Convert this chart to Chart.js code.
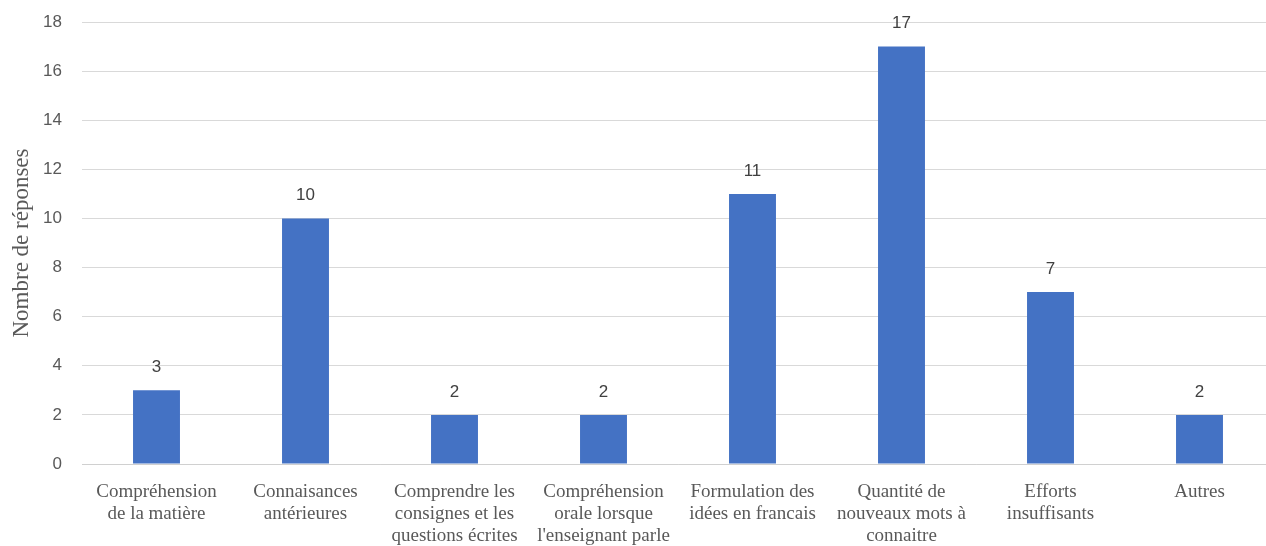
<!DOCTYPE html>
<html>
<head>
<meta charset="utf-8">
<script src="https://cdn.jsdelivr.net/npm/chart.js@4/dist/chart.umd.min.js"></script>
<style>
  html, body { margin: 0; padding: 0; background: #fff; overflow: hidden; }
  #wrap { position: relative; width: 1274px; height: 546px; }
</style>
</head>
<body>
<div id="wrap"><canvas id="chart"></canvas></div>
<script>
const categories = [
  ["Compréhension", "de la matière"],
  ["Connaisances", "antérieures"],
  ["Comprendre les", "consignes et les", "questions écrites"],
  ["Compréhension", "orale lorsque", "l'enseignant parle"],
  ["Formulation des", "idées en francais"],
  ["Quantité de", "nouveaux mots à", "connaitre"],
  ["Efforts", "insuffisants"],
  ["Autres"]
];
const responses = [3, 10, 2, 2, 11, 17, 7, 2];
const yTicks = [0, 2, 4, 6, 8, 10, 12, 14, 16, 18];

// draws the value above each bar
const valueLabels = {
  id: "valueLabels",
  afterDatasetsDraw(chart) {
    const ctx = chart.ctx;
    ctx.save();
    ctx.font = "17px 'Liberation Sans', sans-serif";
    ctx.fillStyle = "#404040";
    ctx.textAlign = "center";
    ctx.textBaseline = "middle";
    chart.getDatasetMeta(0).data.forEach((bar, i) => {
      ctx.fillText(String(responses[i]), bar.x, bar.y - 23);
    });
    ctx.restore();
  }
};

const ctx = document.getElementById("chart").getContext("2d");
const chart = new Chart(ctx, {
  type: "bar",
  data: {
    labels: categories,
    datasets: [{
      label: "Nombre de réponses",
      data: responses,
      backgroundColor: "#4472C4",
      categoryPercentage: 1,
      barPercentage: 0.315
    }]
  },
  options: {
    responsive: true,
    maintainAspectRatio: false,
    animation: false,
    layout: { padding: { top: 22, right: 0, bottom: 0, left: 0 } },
    plugins: {
      legend: { display: false },
      tooltip: { enabled: false }
    },
    scales: {
      x: {
        grid: { display: false },
        border: { display: true, color: "#d0d0d0", width: 1 },
        ticks: {
          color: "#595959",
          font: { family: "'Liberation Serif', serif", size: 19, lineHeight: 1.16 },
          padding: 9,
          maxRotation: 0,
          autoSkip: false
        },
        afterFit(scale) { scale.height = 82; }
      },
      y: {
        min: 0,
        max: 18,
        afterBuildTicks(scale) { scale.ticks = yTicks.map(v => ({ value: v })); },
        grid: { color: "#d9d9d9", lineWidth: 1, drawTicks: false },
        border: { display: false },
        ticks: {
          color: "#595959",
          font: { family: "'Liberation Sans', sans-serif", size: 17 },
          padding: 20
        },
        title: {
          display: true,
          text: "Nombre de réponses",
          color: "#595959",
          font: { family: "'Liberation Serif', serif", size: 23 },
          padding: { top: 8, bottom: 0 }
        },
        afterFit(scale) {
          scale.width = 82;
          scale.paddingTop = 0;
          scale.paddingBottom = 0;
        }
      }
    }
  },
  plugins: [valueLabels]
});
</script>
</body>
</html>
